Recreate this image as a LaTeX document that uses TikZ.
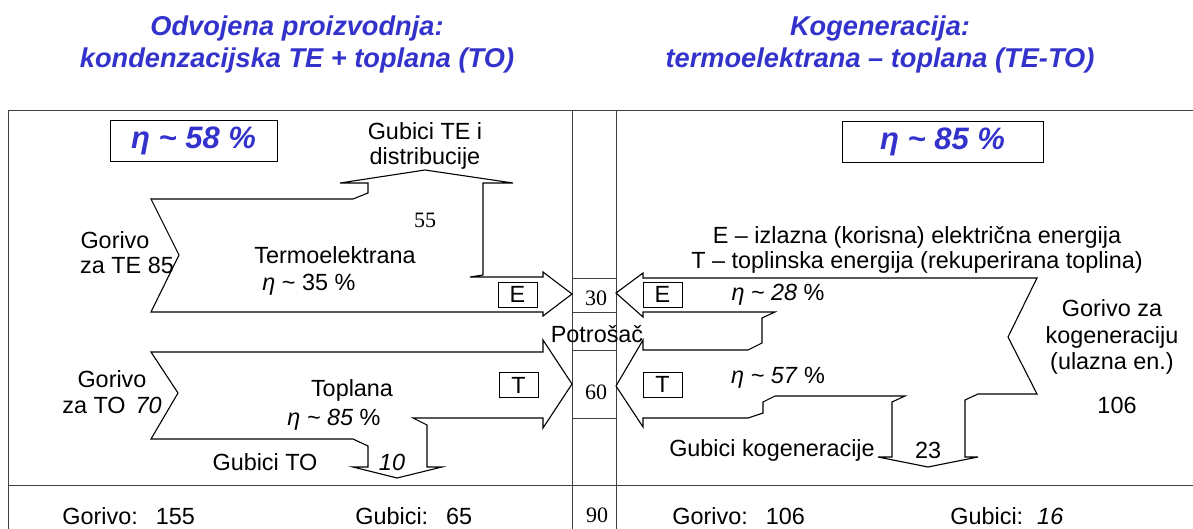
\documentclass[tikz,border=0pt]{standalone}
\usepackage{fontspec}
\setmainfont{Liberation Sans}
\newfontfamily\tnr{Liberation Serif}
\definecolor{ttlblue}{RGB}{51,51,204}

\begin{document}
\begin{tikzpicture}[x=.5pt,y=-.5pt,line join=miter,
  txt/.style={font=\fontsize{11.7}{12.8}\selectfont,inner sep=0pt,align=center},
  num/.style={font=\tnr\fontsize{11}{13}\selectfont,inner sep=0pt},
  ttl/.style={font=\fontsize{13.6}{16}\selectfont\bfseries\itshape,text=ttlblue,align=center,inner sep=0pt},
  etabox/.style={draw,font=\fontsize{15.5}{18}\selectfont\bfseries\itshape,text=ttlblue,minimum height=19.5pt},
  letbox/.style={draw,font=\fontsize{11.7}{12.8}\selectfont,inner sep=0pt,minimum width=19.5pt,minimum height=12.5pt},
  grid/.style={black!75,line width=.5pt},
  flow/.style={line width=.55pt}]
\useasboundingbox (0,0) rectangle (1193,529);

\node [ttl] (ttlL) at (297,44) {Odvojena proizvodnja:\\kondenzacijska TE + toplana (TO)};
\node [ttl] (ttlR) at (880,44) {Kogeneracija:\\termoelektrana -- toplana (TE-TO)};

\draw [grid] (8,529)--(8,111)--(1193,111);
\draw [grid] (8,485)--(1193,485);
\draw [grid] (572,111)--(572,529);
\draw [grid] (616,111)--(616,529);
\draw [grid] (572,278)--(616,278);
\draw [grid] (572,312)--(616,312);
\draw [grid] (572,350)--(616,350);
\draw [grid] (572,418)--(616,418);

\node [etabox,minimum width=83.5pt] (etaL) at (193.5,141) {η \textasciitilde\ 58 \%};
\node [etabox,minimum width=100.5pt] (etaR) at (942.5,142) {η \textasciitilde\ 85 \%};

% odvojena proizvodnja
\draw [flow] (151,199)--(179,255)--(151,312)--(543,312)--(543,316)--(572,294)--(543,272)--(543,277)
  --(470,277)--(483,275)--(483,183)--(513,183)--(425,170)--(340,183)--(368,183)--(368,193)--(353,199)--cycle;
\draw [flow] (151,352)--(543,352)--(543,340)--(572,384)--(543,428)--(543,418)--(413,418)--(427,425)
  --(427,467)--(442,467)--(397,478)--(353,467)--(368,467)--(368,446)--(353,439)--(151,439)--(178,393)--cycle;

\node [txt] (gubTE) at (425,146) {Gubici TE i\\distribucije};
\node [num] (n55) at (425,220) {55};
\node [txt] (gorTE1) at (115,240) {Gorivo};
\node [txt] (gorTE2) at (127,265) {za TE 85};
\node [txt] (termo) at (335,255) {Termoelektrana};
\node [txt,anchor=west] (etaTE) at (262,285) {\textit{η} \textasciitilde\ 35 \%};
\node [letbox] (boxE) at (517.5,294.5) {E};

\node [txt] (gorTO) at (112,392) {Gorivo\\za TO\hspace{5pt}\textit{70}};
\node [txt] (topl) at (352,390) {Toplana};
\node [txt] (etaTO) at (334,420) {\textit{η \textasciitilde\ 85} \%};
\node [letbox] (boxT) at (518.5,385) {T};
\node [txt] (gubTO) at (265,462) {Gubici TO};
\node [txt] (n10) at (392,462) {\textit{10}};

% potrosac
\node [num] (n30) at (596,298) {30};
\node [txt] (potr) at (597,334) {Potrošač};
\node [num] (n60) at (596,392) {60};
\node [num] (n90) at (597,515) {90};

% kogeneracija
\draw [flow] (616,293)--(643,273)--(643,278)--(1037,278)--(1008,337)--(1037,394)--(978,394)--(965,400)
  --(965,457)--(978,457)--(928,467)--(878,457)--(892,457)--(892,402)--(905,396)--(775,396)--(763,402)
  --(763,413)--(748,418)--(643,418)--(643,427)--(616,386)--(643,340)--(643,350)--(748,350)--(762,343)
  --(762,318)--(775,312)--(643,312)--(643,317)--cycle;

\node [txt] (legend) at (917,250) {E -- izlazna (korisna) električna energija\\T -- toplinska energija (rekuperirana toplina)};
\node [letbox] (boxE2) at (662.5,294.5) {E};
\node [txt] (eta28) at (778,295) {\textit{η \textasciitilde\ 28} \%};
\node [letbox] (boxT2) at (662.5,384.5) {T};
\node [txt] (eta57) at (778,378) {\textit{η \textasciitilde\ 57} \%};
\node [txt,font=\fontsize{11.7}{13.4}\selectfont] (gorKG) at (1112,337) {Gorivo za\\kogeneraciju\\(ulazna en.)};
\node [txt] (n106) at (1117,405) {106};
\node [txt] (gubKG) at (772,450) {Gubici kogeneracije};
\node [txt] (n23) at (928,450) {23};

% ukupno
\node [txt,anchor=west] (sumGL) at (62,516) {Gorivo:\hspace{9pt}155};
\node [txt,anchor=west] (sumLL) at (355,516) {Gubici:\hspace{9pt}65};
\node [txt,anchor=west] (sumGR) at (672,516) {Gorivo:\hspace{9pt}106};
\node [txt,anchor=west] (sumLR) at (950,516) {Gubici:\hspace{7pt}\textit{16}};
\end{tikzpicture}
\end{document}
